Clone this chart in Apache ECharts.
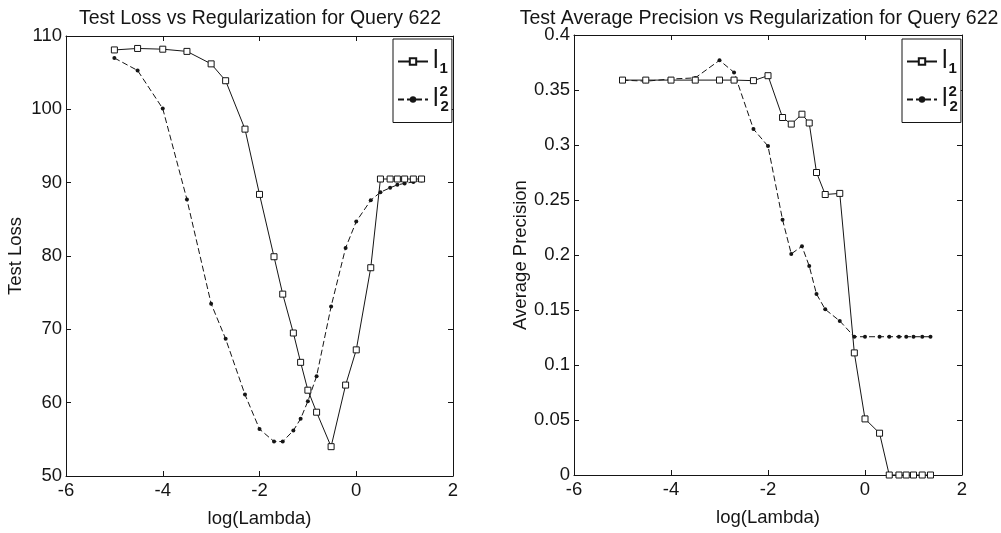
<!DOCTYPE html>
<html>
<head>
<meta charset="utf-8">
<script src="https://cdn.jsdelivr.net/npm/echarts@6/dist/echarts.min.js"></script>
<style>
html,body{margin:0;padding:0;background:#fff;}
#c{width:1001px;height:533px;}
</style>
</head>
<body>
<div id="c"></div>
<script>
// log10(lambda) grid shared by all series
const xLog = [-5, -4.52, -4, -3.5, -3, -2.7, -2.3, -2, -1.7, -1.52, -1.3, -1.15, -1, -0.82, -0.52, -0.22, 0, 0.3, 0.5, 0.7, 0.85, 1.0, 1.18, 1.35];
// Test loss
const lossL1 = [108.1, 108.3, 108.2, 107.9, 106.2, 103.9, 97.3, 88.4, 79.9, 74.8, 69.5, 65.5, 61.7, 58.7, 54.0, 62.4, 67.2, 78.4, 90.5, 90.5, 90.5, 90.5, 90.5, 90.5];
const lossL2 = [107.0, 105.3, 100.1, 87.7, 73.5, 68.7, 61.1, 56.4, 54.7, 54.7, 56.2, 57.8, 60.2, 63.6, 73.1, 81.1, 84.7, 87.6, 88.7, 89.3, 89.7, 89.9, 90.1, 90.3];
// Average precision
const apL1 = [0.359, 0.359, 0.359, 0.359, 0.359, 0.359, 0.3585, 0.363, 0.325, 0.319, 0.328, 0.320, 0.275, 0.255, 0.256, 0.111, 0.051, 0.038, 0, 0, 0, 0, 0, 0];
const apL2 = [0.359, 0.358, 0.360, 0.361, 0.377, 0.366, 0.3145, 0.299, 0.232, 0.201, 0.208, 0.190, 0.1645, 0.1506, 0.140, 0.1257, 0.1257, 0.1257, 0.1257, 0.1257, 0.1257, 0.1257, 0.1257, 0.1257];

const titles = ['Test Loss vs Regularization for Query 622', 'Test Average Precision vs Regularization for Query 622'];
const xName = 'log(Lambda)';
const yNames = ['Test Loss', 'Average Precision'];
const seriesNames = ['l1', 'l2'];

const FONT = 'Liberation Sans, Arial, sans-serif';
const INK = '#151515';
const pairs = (xs, ys) => xs.map((x, i) => [x, ys[i]]);

function xAxes(grid) {
  const base = {
    gridIndex: grid, type: 'value', min: -6, max: 2, interval: 2,
    axisLine: {show: true, onZero: false, lineStyle: {color: INK, width: 1}},
    axisTick: {show: true, inside: true, length: 5, lineStyle: {color: INK}},
    splitLine: {show: false}
  };
  return [
    Object.assign({}, base, {
      position: 'bottom', name: xName, nameLocation: 'middle', nameGap: 33,
      nameTextStyle: {fontFamily: FONT, fontSize: 18.5, color: INK},
      axisLabel: {fontFamily: FONT, fontSize: 18.5, color: INK, margin: 5}
    }),
    Object.assign({}, base, {position: 'top', axisLabel: {show: false}})
  ];
}
function yAxes(grid, min, max, interval, name, gap) {
  const base = {
    gridIndex: grid, type: 'value', min: min, max: max, interval: interval,
    axisLine: {show: true, onZero: false, lineStyle: {color: INK, width: 1}},
    axisTick: {show: true, inside: true, length: 5, lineStyle: {color: INK}},
    splitLine: {show: false}
  };
  return [
    Object.assign({}, base, {
      position: 'left', name: name, nameLocation: 'middle', nameGap: gap,
      nameTextStyle: {fontFamily: FONT, fontSize: 18.5, color: INK},
      axisLabel: {fontFamily: FONT, fontSize: 18.5, color: INK, margin: 4}
    }),
    Object.assign({}, base, {position: 'right', axisLabel: {show: false}})
  ];
}

const legendRich = {
  l: {fontFamily: FONT, fontSize: 25, color: INK, lineHeight: 30, verticalAlign: 'middle'},
  sub: {fontFamily: FONT, fontSize: 15, fontWeight: 'bold', color: INK, lineHeight: 30, verticalAlign: 'bottom', padding: [0, 0, 0, 1]},
  sup: {fontFamily: FONT, fontSize: 15, fontWeight: 'bold', color: INK, lineHeight: 30, verticalAlign: 'top', width: 0, padding: [0, 0, 0, 1]}
};
function legendFor(left) {
  return {
    orient: 'vertical', left: left, top: 39,
    data: seriesNames,
    itemWidth: 30, itemHeight: 8, itemGap: 8,
    padding: [10, 3, 8, 4],
    borderColor: INK, borderWidth: 1, backgroundColor: '#fff',
    selectedMode: false,
    textStyle: {rich: legendRich, padding: [0, 0, 0, 0]},
    formatter: function (name) {
      return name === 'l1' ? '{l|l}{sub|1}' : '{l|l}{sup|2}{sub|2}';
    }
  };
}

function l1Series(xi, yi, data) {
  return {
    name: 'l1', type: 'line', xAxisIndex: xi, yAxisIndex: yi, data: data,
    symbol: 'rect', symbolSize: 6, showSymbol: true,
    lineStyle: {color: INK, width: 1, type: 'solid'},
    itemStyle: {color: '#fff', borderColor: INK, borderWidth: 1},
    emphasis: {disabled: true}, animation: false, z: 3
  };
}
function l2Series(xi, yi, data) {
  return {
    name: 'l2', type: 'line', xAxisIndex: xi, yAxisIndex: yi, data: data,
    symbol: 'circle', symbolSize: 4, showSymbol: true,
    lineStyle: {color: INK, width: 1, type: [6, 3]},
    itemStyle: {color: INK, borderWidth: 0},
    emphasis: {disabled: true}, animation: false, z: 2
  };
}

const chart = echarts.init(document.getElementById('c'), null, {renderer: 'canvas'});
chart.setOption({
  backgroundColor: '#fff',
  animation: false,
  title: [
    {text: titles[0], left: 255, top: 4, textAlign: 'center',
     textStyle: {fontFamily: FONT, fontSize: 19.5, fontWeight: 'normal', color: INK}},
    {text: titles[1], left: 754, top: 4, textAlign: 'center',
     textStyle: {fontFamily: FONT, fontSize: 19.5, fontWeight: 'normal', color: INK}}
  ],
  legend: [legendFor(393), legendFor(902)],
  grid: [
    {left: 66, right: 548, top: 36, bottom: 55},
    {left: 574, right: 39, top: 35, bottom: 58}
  ],
  xAxis: xAxes(0).concat(xAxes(1)),
  yAxis: yAxes(0, 50, 110, 10, yNames[0], 41).concat(yAxes(1, 0, 0.4, 0.05, yNames[1], 44)),
  series: [
    l1Series(0, 0, pairs(xLog, lossL1)),
    l2Series(0, 0, pairs(xLog, lossL2)),
    l1Series(2, 2, pairs(xLog, apL1)),
    l2Series(2, 2, pairs(xLog, apL2))
  ]
});
</script>
</body>
</html>
